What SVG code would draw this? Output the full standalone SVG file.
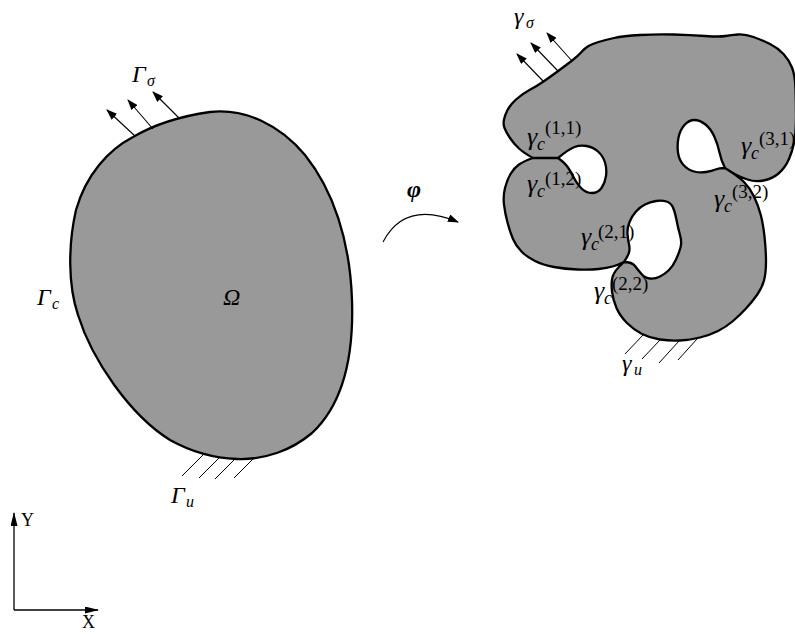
<svg xmlns="http://www.w3.org/2000/svg" width="795" height="634" viewBox="0 0 795 634">
<style>
.body{fill:#999999;stroke:#000;stroke-width:2.3;stroke-linejoin:round}
.thin{stroke:#000;stroke-width:1.1;fill:none}
.hatch{stroke:#000;stroke-width:1;fill:none}
.axis{stroke:#000;stroke-width:1.3;fill:none}
.mi{font-family:"Liberation Serif",serif;font-style:italic;fill:#000}
.up{font-family:"Liberation Serif",serif;fill:#000}
.g1{font-size:24px}
.s1{font-size:16px}
.g2{font-size:26px}
.s2{font-size:18px}
.sp{font-size:19px}
.axl{font-size:18px}
</style>
<defs>
<marker id="ah" viewBox="0 0 11 8" refX="10" refY="4" markerWidth="11" markerHeight="8" orient="auto" markerUnits="userSpaceOnUse"><path d="M0,0 L11,4 L0,8 z" fill="#000"/></marker>
<marker id="ax" viewBox="0 0 14 7" refX="13" refY="3.5" markerWidth="14" markerHeight="7" orient="auto" markerUnits="userSpaceOnUse"><path d="M0,0 L14,3.5 L0,7 z" fill="#000"/></marker>
</defs>

<g id="omega">
<path class="body" d="M133,137 C150,127 175,117 210,112 C245,108 280,125 305,155 C333,190 350,240 352,300 C354,360 342,405 312,433 C292,450 265,460 237,459 C210,458 188,450 170,440 C130,415 92,360 78,315 C68,285 68,245 76,210 C86,175 108,150 133,137 Z"/>
<g class="thin" marker-end="url(#ah)">
<line x1="135" y1="136" x2="107" y2="110"/>
<line x1="153" y1="129" x2="128" y2="100"/>
<line x1="180" y1="119" x2="153" y2="92"/>
</g>
<g class="hatch">
<line x1="203" y1="455" x2="182" y2="476"/>
<line x1="220" y1="457" x2="199" y2="478"/>
<line x1="236" y1="458" x2="215" y2="479"/>
<line x1="255" y1="457" x2="234" y2="478"/>
</g>
<text class="mi g1" x="132" y="82">Γ</text><text class="mi s1" x="147" y="86">σ</text>
<text class="mi g1" x="37" y="305">Γ</text><text class="mi s1" x="52" y="309">c</text>
<text class="mi g1" x="171" y="503">Γ</text><text class="mi s1" x="186" y="507">u</text>
<text class="mi g1" x="223" y="305">Ω</text>
</g>

<g id="deformed">
<path class="body" d="M533,158 Q524,153 519,148.5 Q514,144 510,138 Q506,132 504.5,128 Q503,124 504,119.5 Q505,115 507.5,110 Q510,105 516,99.5 Q522,94 529.5,90 Q537,86 543.5,81.5 Q550,77 557.5,71.5 Q565,66 571.5,61 Q578,56 581.5,52 Q585,48 588.5,46 Q592,44 598.5,42 Q605,40 614,38 Q623,36 640,35 Q657,34 673.5,34.5 Q690,35 705,36 Q720,37 725.5,36 Q731,35 738,34.5 Q745,34 753.5,37 Q762,40 770,44 Q778,48 783.5,54 Q789,60 792,67.5 Q795,75 795.5,89 Q796,103 796,116.5 Q796,130 794.5,140 Q793,150 789,159 Q785,168 778.5,173.5 Q772,179 763.5,180.5 Q755,182 747.5,179.5 Q740,177 735.5,174.5 Q731,172 725,168
Q721,160 719.5,152.5 Q718,145 714.5,137 Q711,129 705.5,124.5 Q700,120 694.5,120 Q689,120 684.5,125 Q680,130 678.5,137.5 Q677,145 678,152.5 Q679,160 683.5,165 Q688,170 694,171.5 Q700,173 706,172 Q712,171 715.5,169.5 Q719,168 725,168
Q738,176 744,182 Q750,188 754,196.5 Q758,205 760.5,214 Q763,223 764.5,236.5 Q766,250 766,261.5 Q766,273 764,280.5 Q762,288 757,295 Q752,302 746,308.5 Q740,315 733,321 Q726,327 718,331 Q710,335 700,337.5 Q690,340 680,340.5 Q670,341 660,339.5 Q650,338 642,334 Q634,330 627,323 Q620,316 616.5,308 Q613,300 612,291.5 Q611,283 612.5,277 Q614,271 624,262
Q632,262 635,266 Q638,270 641.5,274 Q645,278 650,278.5 Q655,279 660,276.5 Q665,274 669,270 Q673,266 676,259.5 Q679,253 680.5,247.5 Q682,242 680,235 Q678,228 676.5,220 Q675,212 673,207.5 Q671,203 666.5,201.5 Q662,200 656,201 Q650,202 645,204.5 Q640,207 636,211.5 Q632,216 629.5,222 Q627,228 627.5,234 Q628,240 629,244.5 Q630,249 629,252.5 Q628,256 624,262
Q618,265 612.5,266.5 Q607,268 598.5,269 Q590,270 577.5,269.5 Q565,269 554,267 Q543,265 535,261 Q527,257 521.5,251.5 Q516,246 513,239 Q510,232 507.5,222.5 Q505,213 504,204.5 Q503,196 505,188 Q507,180 510.5,174 Q514,168 519,164.5 Q524,161 533,158
L558,158
Q565,163 568,167.5 Q571,172 574,178 Q577,184 581.5,188.5 Q586,193 592,193 Q598,193 601.5,188 Q605,183 606,176 Q607,169 605,162.5 Q603,156 598,151.5 Q593,147 586.5,146 Q580,145 574.5,147 Q569,149 558,158
L533,158 Z"/>
<g class="thin" marker-end="url(#ah)">
<line x1="543" y1="81" x2="517" y2="54"/>
<line x1="558" y1="71" x2="531" y2="43"/>
<line x1="572" y1="61" x2="547" y2="33"/>
</g>
<g class="hatch">
<line x1="643" y1="335" x2="625" y2="354"/>
<line x1="660" y1="340" x2="642" y2="359"/>
<line x1="679" y1="341" x2="659" y2="363"/>
<line x1="697" y1="339" x2="678" y2="360"/>
</g>
<text class="mi g1" x="514" y="24">γ</text><text class="mi s1" x="526" y="28">σ</text>
<text class="mi g1" x="622" y="371">γ</text><text class="mi s1" x="634" y="375">u</text>
<g id="lbl11"><text class="mi g2" x="527" y="145">γ</text><text class="mi s2" x="537" y="150">c</text><text class="up sp" x="545" y="134">(1,1)</text></g>
<g id="lbl12"><text class="mi g2" x="527" y="192">γ</text><text class="mi s2" x="537" y="197">c</text><text class="up sp" x="545" y="185">(1,2)</text></g>
<g id="lbl21"><text class="mi g2" x="581" y="245">γ</text><text class="mi s2" x="591" y="250">c</text><text class="up sp" x="598" y="238">(2,1)</text></g>
<g id="lbl22"><text class="mi g2" x="594" y="299">γ</text><text class="mi s2" x="604" y="304">c</text><text class="up sp" x="612" y="290">(2,2)</text></g>
<g id="lbl31"><text class="mi g2" x="741" y="154">γ</text><text class="mi s2" x="751" y="159">c</text><text class="up sp" x="759" y="145">(3,1)</text></g>
<g id="lbl32"><text class="mi g2" x="714" y="207">γ</text><text class="mi s2" x="724" y="212">c</text><text class="up sp" x="732" y="198">(3,2)</text></g>
</g>

<g id="connectors">
<path class="thin" d="M383,242 Q405,200 458,222" marker-end="url(#ah)"/>
<text x="407" y="197" style="font-family:'Liberation Serif',serif;font-style:italic;font-weight:bold;font-size:24px">φ</text>
</g>

<g id="axes">
<line class="axis" x1="14" y1="610" x2="14" y2="513" marker-end="url(#ax)"/>
<line class="axis" x1="14" y1="610" x2="98" y2="610" marker-end="url(#ax)"/>
<text class="up axl" x="21" y="526">Y</text>
<text class="up axl" x="82" y="628">X</text>
</g>
</svg>
